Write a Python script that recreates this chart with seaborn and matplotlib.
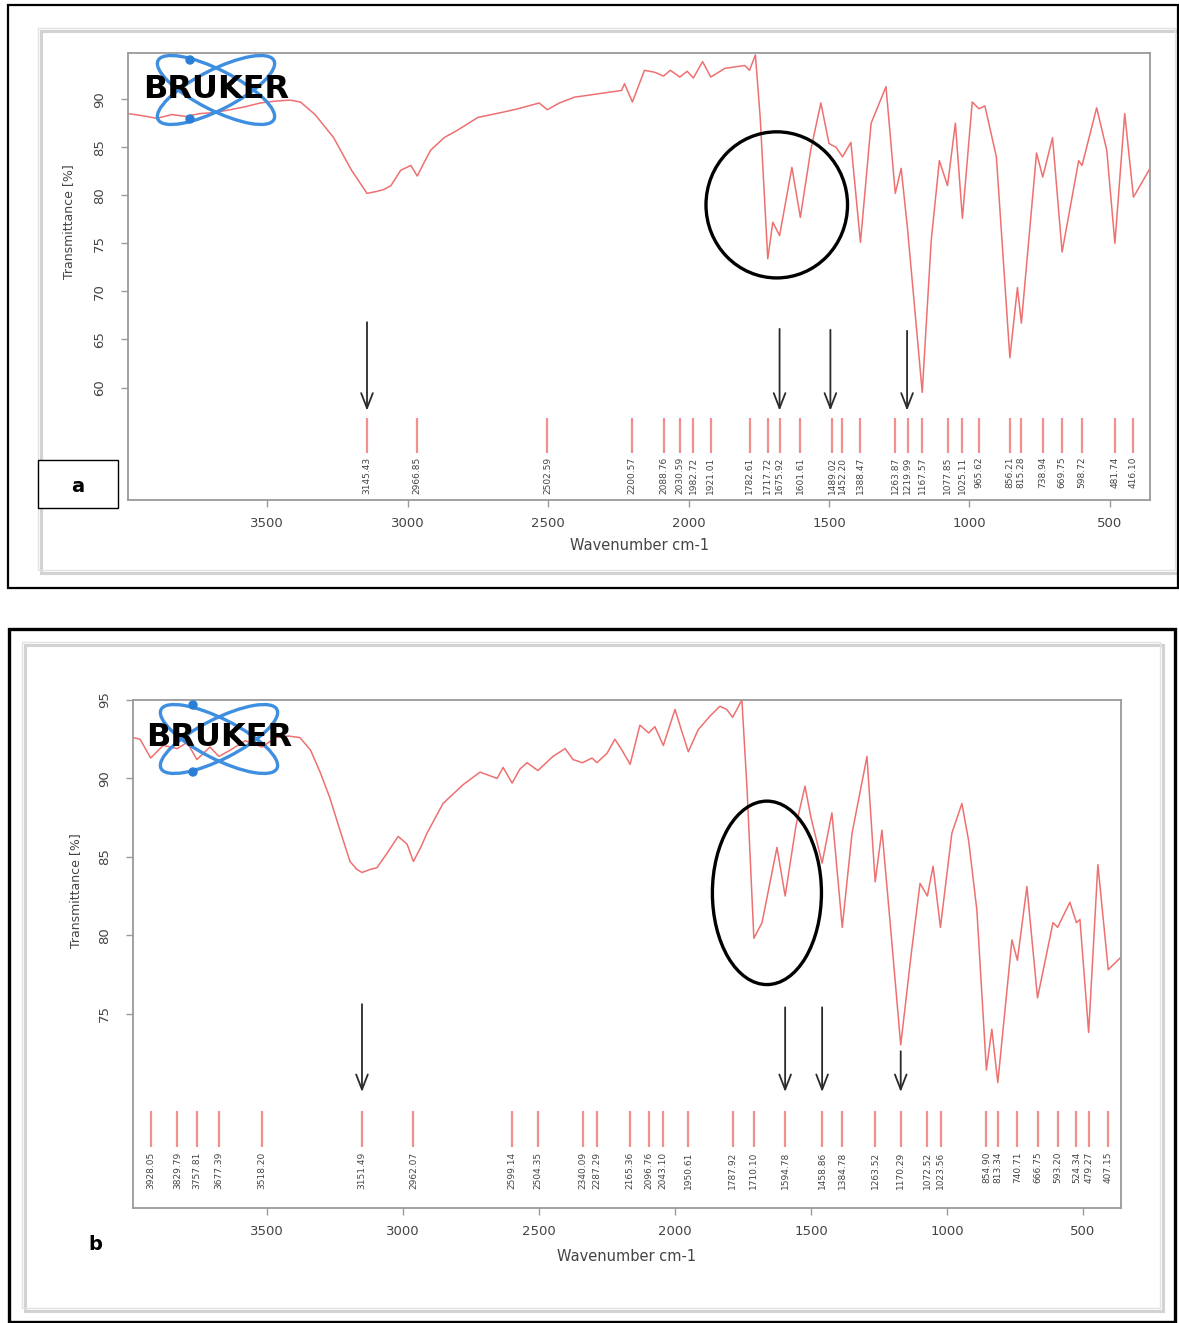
import matplotlib
matplotlib.use("Agg")
import matplotlib.pyplot as plt
import seaborn as sns
import pandas as pd
from matplotlib.patches import Ellipse, Rectangle, Circle

# ---------------- data ----------------
wn_a = [3996, 3950, 3893, 3840, 3790, 3739, 3690, 3632, 3580, 3525, 3470, 3418, 3382, 3330,
        3264, 3200, 3145, 3110, 3085, 3060, 3025, 2989, 2966, 2940, 2918, 2870, 2821, 2750,
        2668, 2607, 2532, 2503, 2460, 2407, 2311, 2239, 2228, 2200, 2157, 2121, 2089, 2065,
        2031, 2005, 1983, 1950, 1921, 1871, 1800, 1783, 1762, 1745, 1718, 1700, 1676, 1632,
        1602, 1565, 1529, 1500, 1489, 1475, 1452, 1422, 1388, 1350, 1297, 1264, 1243, 1220,
        1168, 1136, 1107, 1078, 1050, 1025, 990, 966, 945, 904, 856, 829, 815, 761, 739,
        704, 670, 611, 599, 547, 511, 482, 447, 416, 357]
tr_a = [88.5, 88.3, 88.0, 88.4, 88.2, 88.5, 88.6, 88.9, 89.2, 89.6, 89.8, 89.9, 89.7, 88.4,
        86.0, 82.6, 80.2, 80.4, 80.6, 81.0, 82.6, 83.1, 82.0, 83.5, 84.7, 86.0, 86.8, 88.1,
        88.6, 89.0, 89.6, 88.9, 89.6, 90.2, 90.6, 90.9, 91.6, 89.7, 93.0, 92.8, 92.4, 93.0,
        92.3, 92.9, 92.2, 93.9, 92.3, 93.2, 93.5, 93.0, 94.6, 88.1, 73.4, 77.2, 75.8, 82.9,
        77.7, 84.7, 89.6, 85.4, 85.2, 85.0, 84.0, 85.5, 75.1, 87.5, 91.3, 80.2, 82.8, 76.4,
        59.5, 75.3, 83.6, 81.0, 87.5, 77.6, 89.7, 89.0, 89.3, 84.0, 63.1, 70.4, 66.7, 84.4,
        81.9, 86.0, 74.1, 83.6, 83.1, 89.1, 84.7, 75.0, 88.5, 79.8, 82.8]

peaks_a = ["3145.43", "2966.85", "2502.59", "2200.57", "2088.76", "2030.59", "1982.72",
           "1921.01", "1782.61", "1717.72", "1675.92", "1601.61", "1489.02", "1452.20",
           "1388.47", "1263.87", "1219.99", "1167.57", "1077.85", "1025.11", "965.62",
           "856.21", "815.28", "738.94", "669.75", "598.72", "481.74", "416.10"]

wn_b = [3993, 3967, 3928, 3882, 3830, 3794, 3758, 3710, 3677, 3636, 3580, 3518, 3470, 3420,
        3379, 3340, 3305, 3270, 3232, 3195, 3170, 3151, 3120, 3096, 3060, 3018, 2985, 2962,
        2935, 2912, 2853, 2779, 2717, 2654, 2632, 2599, 2570, 2544, 2504, 2449, 2404, 2375,
        2340, 2305, 2287, 2250, 2221, 2195, 2165, 2129, 2097, 2074, 2043, 2000, 1975, 1951,
        1915, 1870, 1835, 1810, 1788, 1754, 1735, 1710, 1680, 1625, 1595, 1555, 1522, 1500,
        1459, 1423, 1385, 1349, 1294, 1264, 1239, 1210, 1170, 1130, 1099, 1072, 1051, 1024,
        982, 945, 920, 890, 855, 835, 813, 761, 741, 706, 667, 610, 593, 548, 524, 511, 479,
        445, 407, 360]
tr_b = [92.6, 92.5, 91.3, 92.1, 91.9, 92.3, 91.2, 92.0, 91.4, 91.8, 92.4, 92.0, 92.6, 92.7,
        92.6, 91.8, 90.4, 88.8, 86.7, 84.7, 84.2, 84.0, 84.2, 84.3, 85.2, 86.3, 85.8, 84.7,
        85.6, 86.5, 88.4, 89.6, 90.4, 90.0, 90.7, 89.7, 90.6, 91.0, 90.5, 91.4, 91.9, 91.2,
        91.0, 91.3, 91.0, 91.6, 92.5, 91.8, 90.9, 93.4, 92.9, 93.3, 92.1, 94.4, 93.0, 91.7,
        93.1, 94.0, 94.6, 94.4, 93.9, 95.0, 89.3, 79.8, 80.8, 85.6, 82.5, 87.0, 89.5, 87.5,
        84.6, 87.8, 80.5, 86.5, 91.4, 83.4, 86.7, 81.0, 73.0, 79.0, 83.3, 82.5, 84.4, 80.5,
        86.5, 88.4, 86.0, 81.6, 71.4, 74.0, 70.6, 79.7, 78.4, 83.1, 76.0, 80.8, 80.5, 82.1,
        80.8, 81.0, 73.8, 84.5, 77.8, 78.6]

peaks_b = ["3928.05", "3829.79", "3757.81", "3677.39", "3518.20", "3151.49", "2962.07",
           "2599.14", "2504.35", "2340.09", "2287.29", "2165.36", "2096.76", "2043.10",
           "1950.61", "1787.92", "1710.10", "1594.78", "1458.86", "1384.78", "1263.52",
           "1170.29", "1072.52", "1023.56", "854.90", "813.34", "740.71", "666.75",
           "593.20", "524.34", "479.27", "407.15"]

x_ticks = [3500, 3000, 2500, 2000, 1500, 1000, 500]
y_ticks_a = [60, 65, 70, 75, 80, 85, 90]
y_ticks_b = [75, 80, 85, 90, 95]

arrows_a = [3145, 1676, 1495, 1222]
arrows_b = [3151, 1595, 1459, 1170]

# ---------------- styling ----------------
W, H = 1179, 1323
sns.set_theme(style="white")
plt.rcParams["font.family"] = ["DejaVu Sans"]

LINE = "#ee7070"
PEAK = "#f29090"
TXT = "#444444"
SPINE = "#9a9a9a"

fig = plt.figure(figsize=(W / 100, H / 100), dpi=100)
fig.patch.set_facecolor("white")


def fr(x0, y0, x1, y1):
    return [x0 / W, 1 - y1 / H, (x1 - x0) / W, (y1 - y0) / H]


def panel(rect, wn, tr, peaks, xlim, ylim, yticks, line_top, line_bot, text_top,
          arrows, arr_start, arr_end, ell, ylab_xy, xlab_xy):
    ax = fig.add_axes(rect)
    df = pd.DataFrame({"wn": wn, "T": tr})
    sns.lineplot(data=df, x="wn", y="T", ax=ax, color=LINE, lw=1.1, sort=False,
                 estimator=None)
    for p in peaks:
        v = float(p)
        ax.plot([v, v], [line_top, line_bot], color=PEAK, lw=1.6, solid_capstyle="butt")
        ax.text(v, text_top, p, rotation=90, ha="center", va="top", fontsize=6.5,
                color=TXT)
    for i, v in enumerate(arrows):
        ax.annotate("", xy=(v, arr_end), xytext=(v, arr_start[i]),
                    arrowprops=dict(arrowstyle="->,head_length=0.9,head_width=0.35",
                                    lw=1.3, color="#2a2a2a", shrinkA=0, shrinkB=0))
    ax.add_patch(Ellipse(ell[:2], ell[2], ell[3], fill=False, ec="black", lw=2.4,
                         zorder=5))
    ax.set_xlim(*xlim)
    ax.set_ylim(*ylim)
    ax.set_xticks(x_ticks)
    ax.set_yticks(yticks)
    ax.set_xticklabels([str(t) for t in x_ticks])
    ax.set_yticklabels([str(t) for t in yticks], rotation=90, va="center")
    ax.tick_params(axis="both", direction="out", length=5, width=1, color=SPINE,
                   labelsize=9.5, labelcolor=TXT, bottom=True, left=True)
    ax.tick_params(axis="y", pad=11)
    ax.tick_params(axis="x", pad=7)
    for s in ax.spines.values():
        s.set_color(SPINE)
        s.set_linewidth(1.3)
    ax.set_xlabel("Wavenumber cm-1", fontsize=10.5, color=TXT)
    ax.set_ylabel("Transmittance [%]", fontsize=9, color=TXT)
    ax.xaxis.set_label_coords(*xlab_xy)
    ax.yaxis.set_label_coords(*ylab_xy)
    ax.set_facecolor("white")
    return ax


ax_a = panel(fr(128, 53, 1150, 500), wn_a, tr_a, peaks_a, (3996, 357), (48.3, 94.8),
             y_ticks_a, 56.8, 53.2, 52.8, arrows_a, [66.8, 66.1, 66.0, 65.9], 57.6,
             (1686, 79.0, 504, 15.2), (-0.052, 0.622), (0.501, -0.085))
ax_b = panel(fr(133, 700, 1121, 1208), wn_b, tr_b, peaks_b, (3993, 360), (62.6, 95.0),
             y_ticks_b, 68.8, 66.5, 66.2, arrows_b, [75.6, 75.4, 75.4, 72.6], 70.0,
             (1662, 82.7, 401, 11.7), (-0.0516, 0.624), (0.5, -0.08))

# ---------------- overlay (frames, logo, panel letters) ----------------
ov = fig.add_axes([0, 0, 1, 1], zorder=10)
ov.set_xlim(0, W)
ov.set_ylim(H, 0)
ov.axis("off")
ov.patch.set_alpha(0)

# shadowed inner boxes
for (x0, y0, x1, y1) in [(38, 28, 1175, 570), (22, 642, 1160, 1308)]:
    ov.add_patch(Rectangle((x0 + 3, y0 + 3), x1 - x0, y1 - y0, fill=False,
                           ec="#d2d2d2", lw=2.2))
    ov.add_patch(Rectangle((x0, y0), x1 - x0, y1 - y0, fill=False, ec="#e2e2e2", lw=1))
# outer black frames
ov.add_patch(Rectangle((8, 5), 1170, 583, fill=False, ec="black", lw=1.6))
ov.add_patch(Rectangle((9, 629), 1166, 693, fill=False, ec="black", lw=2.4))

# panel letters
ov.add_patch(Rectangle((38, 460), 80, 48, fc="white", ec="black", lw=1))
ov.text(78, 486, "a", fontsize=14, fontweight="bold", ha="center", va="center",
        color="black")
ov.text(95, 1245, "b", fontsize=14, fontweight="bold", ha="center", va="center",
        color="black")

# Bruker logos
for (cx, cy, ty, dot_y) in [(216, 90, 89, (60, 119)), (219, 739, 738, (705, 772))]:
    for ang in (27, -27):
        ov.add_patch(Ellipse((cx, cy), 130, 40, angle=ang, fill=False, ec="#3f8fe0",
                             lw=2.4))
    for dy in dot_y:
        ov.add_patch(Circle((cx - 26, dy), 4, color="#2b7fd6"))
    ov.text(cx, ty, "BRUKER", fontsize=23, fontweight="heavy", ha="center",
            va="center", color="black")

fig.savefig("out.png", dpi=100, facecolor="white")
